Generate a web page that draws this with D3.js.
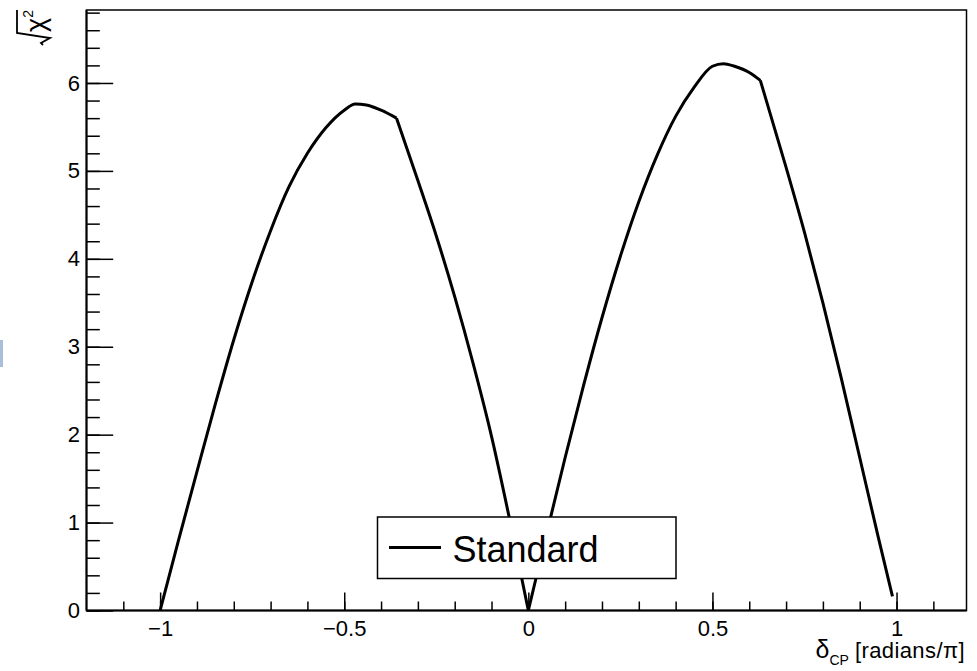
<!DOCTYPE html>
<html>
<head>
<meta charset="utf-8">
<script src="https://cdn.jsdelivr.net/npm/d3@7"></script>
<style>
    body { margin: 0; background: #fff; }
    svg { display: block; font-family: "Liberation Sans", Arial, Helvetica, sans-serif; }
</style>
</head>
<body>
<div id="chart"></div>
<script>
// valeurs (delta_CP en unités de pi, sqrt(chi2))
const deltaCP = [-1, -0.95, -0.9, -0.85, -0.8, -0.75, -0.7, -0.65, -0.6, -0.55, -0.5, -0.47, -0.44, -0.4, -0.358,
    -0.3, -0.25, -0.2, -0.15, -0.1, -0.05, 0,
    0.05, 0.1, 0.15, 0.2, 0.25, 0.3, 0.35, 0.4, 0.45, 0.5, 0.53, 0.56, 0.6, 0.63,
    0.7, 0.75, 0.8, 0.85, 0.9, 0.95, 0.989];
const sqrtChi2 = [0, 0.8, 1.58, 2.35, 3.08, 3.74, 4.32, 4.82, 5.2, 5.49, 5.69, 5.76, 5.75, 5.69, 5.6,
    4.89, 4.26, 3.57, 2.81, 1.98, 1.02, 0,
    0.88, 1.74, 2.56, 3.33, 4.03, 4.65, 5.18, 5.62, 5.95, 6.19, 6.22, 6.19, 6.12, 6.03,
    5.04, 4.3, 3.5, 2.64, 1.74, 0.84, 0.16];
// points anguleux de la courbe (début, cassures, minimum, fin)
const cornerValues = [-1, -0.358, 0, 0.63, 0.989];

const xMajorTicks = [-1, -0.5, 0, 0.5, 1];
const xMinorTicks = d3.range(-11, 12).map(i => i / 10);
const yMajorTicks = [0, 1, 2, 3, 4, 5, 6];
const yMinorTicks = d3.range(0, 35).map(i => i / 5);
const legendLabel = "Standard";

const width = 977, height = 671;
const frame = { left: 86.5, right: 966.5, top: 10, bottom: 610.5 };

const svg = d3.select("#chart").append("svg")
    .attr("width", width)
    .attr("height", height);

svg.append("rect").attr("width", width).attr("height", height).attr("fill", "#fff");

// petit reste d'interface visible au bord gauche de l'image
svg.append("rect").attr("x", 0).attr("y", 340).attr("width", 3).attr("height", 27).attr("fill", "#a9bed9");

const x = d3.scaleLinear().domain([-1.2, 1.19]).range([frame.left, frame.right]);
const y = d3.scaleLinear().domain([0, 6.83]).range([frame.bottom, frame.top]);

// cadre
svg.append("rect")
    .attr("x", frame.left).attr("y", frame.top)
    .attr("width", frame.right - frame.left).attr("height", frame.bottom - frame.top)
    .attr("fill", "none").attr("stroke", "#000").attr("stroke-width", 1.5);

// axe X : graduations mineures puis majeures
svg.append("g")
    .attr("transform", `translate(0,${frame.bottom})`)
    .call(d3.axisBottom(x).tickValues(xMinorTicks).tickSize(-9).tickFormat(""))
    .call(g => g.select(".domain").remove());

const xAxis = svg.append("g")
    .attr("transform", `translate(0,${frame.bottom})`)
    .call(d3.axisBottom(x).tickValues(xMajorTicks).tickSize(-18).tickPadding(10).tickFormat(d3.format("")));
xAxis.select(".domain").attr("d", `M${frame.left},0H${frame.right}`).attr("stroke-width", 2);

// axe Y
svg.append("g")
    .attr("transform", `translate(${frame.left},0)`)
    .call(d3.axisLeft(y).tickValues(yMinorTicks).tickSize(-13.3).tickFormat(""))
    .call(g => g.select(".domain").remove());

const yAxis = svg.append("g")
    .attr("transform", `translate(${frame.left},0)`)
    .call(d3.axisLeft(y).tickValues(yMajorTicks).tickSize(-26.7).tickPadding(6.5).tickFormat(d3.format("")));
yAxis.select(".domain").attr("d", `M0,${frame.bottom}V${frame.top}`).attr("stroke-width", 2);

svg.selectAll(".tick line").attr("stroke", "#000").attr("stroke-width", 1.5);
svg.selectAll(".tick text")
    .attr("font-family", "Liberation Sans, Arial, sans-serif")
    .attr("font-size", 22)
    .attr("fill", "#000");

// courbe, lissée entre les points anguleux
const points = deltaCP.map((d, i) => [d, sqrtChi2[i]]);
const line = d3.line()
    .x(d => x(d[0]))
    .y(d => y(d[1]))
    .curve(d3.curveMonotoneX);

const segments = d3.pairs(cornerValues).map(([a, b]) => points.filter(p => p[0] >= a && p[0] <= b));

svg.append("path")
    .attr("fill", "none")
    .attr("stroke", "#000")
    .attr("stroke-width", 3)
    .attr("stroke-linejoin", "miter")
    .attr("d", segments.map(s => line(s)).join(""));

// légende
const legend = svg.append("g").attr("transform", "translate(377.5,517)");
legend.append("rect")
    .attr("width", 298.5).attr("height", 61.5)
    .attr("fill", "#fff").attr("stroke", "#000").attr("stroke-width", 1.5);
legend.append("line")
    .attr("x1", 11.5).attr("x2", 63.5).attr("y1", 30.5).attr("y2", 30.5)
    .attr("stroke", "#000").attr("stroke-width", 3);
legend.append("text")
    .attr("x", 75).attr("y", 45)
    .attr("font-size", 36)
    .text(legendLabel);

// titre de l'axe X
const xTitle = svg.append("text")
    .attr("x", 965).attr("y", 658)
    .attr("text-anchor", "end")
    .attr("font-size", 22);
xTitle.append("tspan").attr("font-size", 25).text("δ");
xTitle.append("tspan").attr("dy", 7).attr("font-size", 14).text("CP");
xTitle.append("tspan").attr("dy", -7).attr("dx", 6).attr("letter-spacing", 0.4).text("[radians/π]");

// titre de l'axe Y : racine de chi2, tourné
const yTitle = svg.append("g").attr("transform", "translate(50,10) rotate(-90)");
const yText = yTitle.append("text")
    .attr("x", 0).attr("y", -5)
    .attr("text-anchor", "end")
    .attr("font-size", 27);
yText.append("tspan").text("χ");
yText.append("tspan").attr("dy", -12).attr("font-size", 14).text("2");
yTitle.append("path")
    .attr("d", "M0,-33H-23L-28,0L-33,-9L-35,-7")
    .attr("fill", "none")
    .attr("stroke", "#000")
    .attr("stroke-width", 1.8);
</script>
</body>
</html>
